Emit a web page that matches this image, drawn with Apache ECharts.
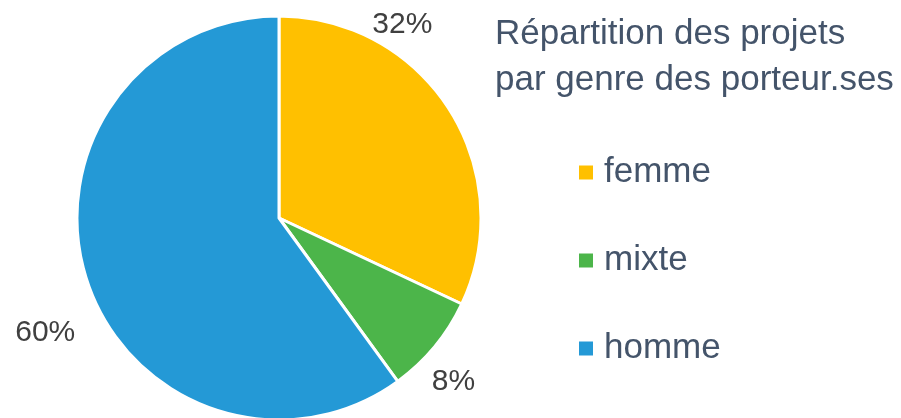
<!DOCTYPE html>
<html>
<head>
<meta charset="utf-8">
<script src="https://cdn.jsdelivr.net/npm/echarts@6/dist/echarts.min.js"></script>
<style>
  html, body { margin: 0; padding: 0; background: #fff; }
  #chart { width: 901px; height: 418px; }
</style>
</head>
<body>
<div id="chart"></div>
<script>
var categories = ['femme', 'mixte', 'homme'];
var values = [32, 8, 60];
var colors = ['#FFC000', '#4CB54A', '#2499D6'];
// nudges so the % labels sit where the original (best fit) put them
var labelShift = [[-89, -81], [-14, 30], [1, 50]];

var chart = echarts.init(document.getElementById('chart'));

var pieData = categories.map(function (name, i) {
  return { name: name, value: values[i], itemStyle: { color: colors[i] } };
});

chart.setOption({
  animation: false,
  title: {
    text: 'Répartition des projets\npar genre des porteur.ses',
    left: 490,
    top: 6,
    textStyle: {
      fontFamily: 'Liberation Sans',
      fontSize: 35,
      fontWeight: 'normal',
      color: '#44546A',
      lineHeight: 46
    }
  },
  legend: {
    orient: 'vertical',
    left: 577,
    top: 155,
    padding: 0,
    icon: 'rect',
    itemWidth: 16,
    itemHeight: 16,
    itemGap: 53,
    data: categories,
    textStyle: {
      fontFamily: 'Liberation Sans',
      fontSize: 35,
      lineHeight: 34,
      padding: [0, 0, 0, 5],
      color: '#44546A'
    }
  },
  series: [{
    type: 'pie',
    center: [279, 218],
    radius: 202,
    startAngle: 90,
    clockwise: true,
    data: pieData,
    itemStyle: { borderColor: '#fff', borderWidth: 3 },
    label: {
      show: true,
      position: 'outside',
      formatter: '{d}%',
      fontFamily: 'Liberation Sans',
      fontSize: 30,
      color: '#404040'
    },
    labelLine: { show: false, length: 8, length2: 0 },
    labelLayout: function (params) {
      var s = labelShift[params.dataIndex];
      return { dx: s[0], dy: s[1] };
    },
    emphasis: { disabled: true }
  }]
});
</script>
</body>
</html>
